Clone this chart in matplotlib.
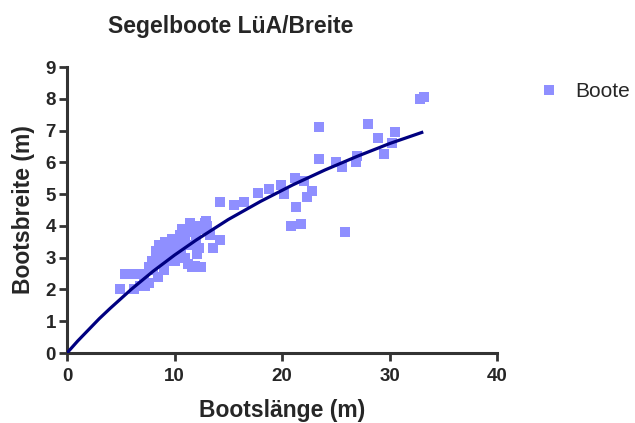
import numpy as np
import matplotlib
matplotlib.use('Agg')
import matplotlib.pyplot as plt

plt.rcParams['font.family'] = ['Liberation Sans', 'DejaVu Sans']

# Bootslänge (m) / Bootsbreite (m)
laenge = [4.9, 5.4, 5.9, 6.4, 6.9, 6.2, 6.8, 7.3, 7.6, 7.2,
          7.6, 8.0, 8.2, 8.5, 8.7, 8.9, 9.0, 9.2, 9.4, 9.5,
          9.6, 9.8, 10.0, 10.0, 10.2, 10.4, 10.5, 10.6, 10.8, 11.0,
          11.0, 11.2, 11.3, 11.5, 11.6, 11.8, 12.0, 12.2, 12.3, 12.5,
          12.7, 13.0, 13.3, 13.6, 14.2, 14.2, 15.5, 16.5, 17.8, 18.8,
          19.9, 20.2, 21.2, 22.0, 21.3, 22.3, 22.8, 20.8, 21.8, 23.4,
          23.4, 28.0, 32.8, 33.2, 28.9, 30.5, 30.2, 29.5, 25.0, 25.6,
          27.0, 26.9, 25.9, 8.3, 9.1, 9.9, 10.7, 11.4, 12.1, 12.8,
          7.9, 8.6, 11.9, 12.9]
breite = [2.0, 2.5, 2.5, 2.5, 2.5, 2.0, 2.1, 2.1, 2.2, 2.4,
          2.7, 2.6, 2.9, 2.4, 2.8, 3.0, 2.6, 3.2, 2.9, 3.4,
          3.1, 3.6, 3.3, 2.9, 3.5, 3.1, 3.7, 3.3, 3.4, 3.6,
          3.0, 3.8, 2.8, 3.4, 2.7, 3.9, 3.6, 4.0, 3.3, 2.7,
          3.9, 4.0, 3.7, 3.3, 4.75, 3.55, 4.65, 4.75, 5.05, 5.15,
          5.3, 5.0, 5.5, 5.4, 4.6, 4.9, 5.1, 4.0, 4.05, 7.1,
          6.1, 7.2, 8.0, 8.05, 6.75, 6.95, 6.6, 6.25, 6.0, 5.85,
          6.2, 6.0, 3.8, 3.2, 3.5, 3.0, 3.9, 4.1, 3.1, 4.1,
          2.9, 3.4, 2.75, 4.15]

# fitted curve as drawn in the reference
kurve_x = [0, 1, 2, 3, 4, 6, 8, 10, 12, 15, 18, 21, 24, 27, 30, 33]
kurve_y = [0, 0.38, 0.73, 1.08, 1.40, 2.01, 2.57, 3.08, 3.55, 4.20,
           4.77, 5.29, 5.76, 6.19, 6.59, 6.94]

xticks = [0, 10, 20, 30, 40]
yticks = list(range(0, 10))

dunkel = '#262626'
punkt = '#8F8FFF'

fig = plt.figure(figsize=(6.35, 4.23), dpi=100)
ax = fig.add_axes([67 / 635, 70 / 423, 430 / 635, 286 / 423])

ax.plot(laenge, breite, 's', color=punkt, markersize=7.8,
        markeredgewidth=0, label='Boote', zorder=2, clip_on=False)
ax.plot(kurve_x, kurve_y, '-', color='#000080', linewidth=2.3, zorder=3)

ax.set_xlim(0, 40)
ax.set_ylim(0, 9)
ax.set_xticks(xticks)
ax.set_yticks(yticks)

for side in ('top', 'right'):
    ax.spines[side].set_visible(False)
for side in ('left', 'bottom'):
    ax.spines[side].set_linewidth(2.2)
    ax.spines[side].set_color('#333333')
ax.tick_params(direction='out', length=6, width=2, colors='#333333',
               labelsize=13.5, labelcolor=dunkel, pad=2)
ax.tick_params(axis='x', pad=5)
for lab in ax.get_xticklabels() + ax.get_yticklabels():
    lab.set_fontweight('bold')

ax.set_xlabel('Bootslänge (m)', fontsize=16.5, fontweight='bold',
              color=dunkel)
ax.set_ylabel('Bootsbreite (m)', fontsize=16.5, fontweight='bold',
              color=dunkel)
ax.xaxis.set_label_coords(0.5, (353 - 399) / 286)
ax.yaxis.set_label_coords((35 - 67) / 430, 0.5)
fig.text(231 / 635, 1 - 27 / 423, 'Segelboote LüA/Breite', fontsize=16.5,
         fontweight='bold', color=dunkel, ha='center', va='center')

leg = ax.legend(loc='upper left', bbox_to_anchor=(530 / 635, 1 - 74 / 423),
                bbox_transform=fig.transFigure, frameon=False,
                fontsize=15, handletextpad=0.75, borderaxespad=0,
                handlelength=1.0)
for t in leg.get_texts():
    t.set_color(dunkel)

fig.savefig('out.png', dpi=100)
